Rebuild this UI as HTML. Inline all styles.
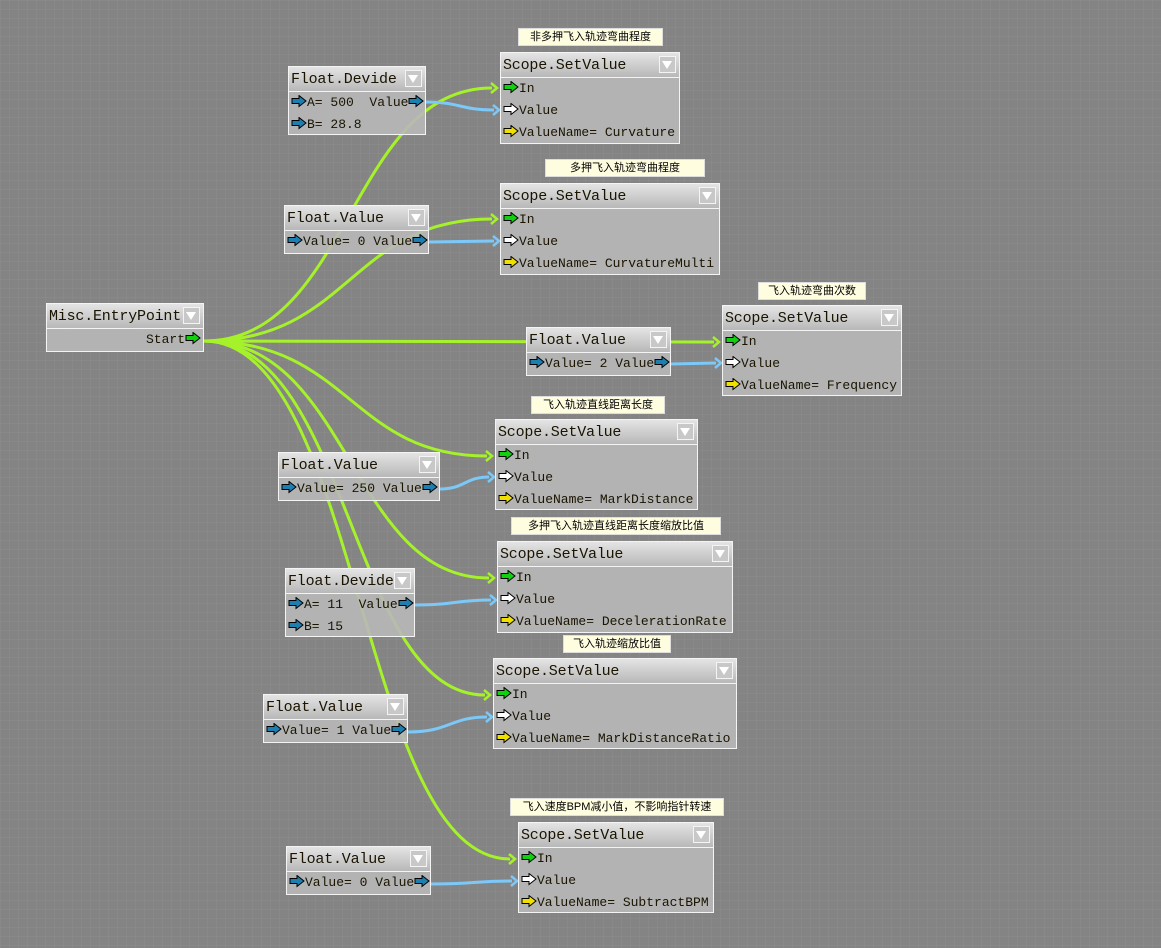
<!DOCTYPE html>
<html><head><meta charset="utf-8">
<style>
html,body{margin:0;padding:0}
body{width:1161px;height:948px;overflow:hidden;position:relative;background-color:#848484;
background-image:linear-gradient(rgba(255,255,255,0.035) 1px,transparent 1px),linear-gradient(90deg,rgba(255,255,255,0.035) 1px,transparent 1px);background-size:9px 9px;
font-family:"Liberation Mono",monospace;}
svg.w{position:absolute;left:0;top:0}
.n{position:absolute;border:1px solid #f4f4f4;background:rgba(184,184,184,0.9);box-sizing:border-box;color:#1a1400}
.h{height:24px;border-bottom:1px solid #f4f4f4;background:linear-gradient(#e4e4e4,#b8b8b8);font-size:15px;letter-spacing:-0.2px;line-height:25px;padding-left:2px;position:relative;white-space:nowrap;overflow:hidden}
.dd{position:absolute;right:3px;top:3px;width:17px;height:17px;border:1px solid #f4f4f4;background:#c8c8c8;box-sizing:border-box}
.dd:after{content:"";position:absolute;left:2px;top:4px;border-left:5.5px solid transparent;border-right:5.5px solid transparent;border-top:8px solid #fff}
.r{height:22px;font-size:13px;line-height:22px;white-space:nowrap;position:relative;padding-left:2px}
.r svg{vertical-align:-2px}
.rr{text-align:right;padding-right:2px}
.t{position:absolute;background:#fffde0;border:1px solid #ddd;font-family:"Liberation Sans","Noto Sans CJK SC",sans-serif;font-size:11px;height:16px;line-height:16px;text-align:center;color:#000;white-space:nowrap}
</style></head><body>
<svg width="0" height="0" style="position:absolute">
<defs>
<path id="ar" d="M1 3.5h7V0.5l7 5.5-7 5.5V8.5H1z" stroke="#000" stroke-width="1"/>
</defs></svg>

<svg class="w" width="1161" height="948">
<g fill="none" stroke="#a6f22a" stroke-width="3">
<path d="M204 341 C350 341 350 88 492 88"/>
<path d="M204 341 C350 341 350 219 492 219"/>
<path d="M204 341 L714 342"/>
<path d="M204 341 C350 341 350 456 487 456"/>
<path d="M204 341 C350 341 350 578 489 578"/>
<path d="M204 341 C350 341 350 695 485 695"/>
<path d="M204 341 C360 341 360 859 510 859"/>
</g>
<g fill="none" stroke="#a6f22a" stroke-width="2.5">
<path d="M491 83l6 5-6 5"/><path d="M491 214l6 5-6 5"/><path d="M713 337l6 5-6 5"/>
<path d="M486 451l6 5-6 5"/><path d="M488 573l6 5-6 5"/><path d="M484 690l6 5-6 5"/><path d="M509 854l6 5-6 5"/>
</g>
<g fill="none" stroke="#7cc8f8" stroke-width="3">
<path d="M426 102 C460 102 460 110 494 110"/>
<path d="M429 242 L494 241"/>
<path d="M671 364 L716 363"/>
<path d="M440 489 C465 489 465 477 489 477"/>
<path d="M415 605 C455 605 455 600 491 600"/>
<path d="M408 732 C450 732 450 717 487 717"/>
<path d="M431 884 C475 884 475 881 512 881"/>
</g>
<g fill="none" stroke="#7cc8f8" stroke-width="2.5">
<path d="M493 105l6 5-6 5"/><path d="M493 236l6 5-6 5"/><path d="M715 358l6 5-6 5"/>
<path d="M488 472l6 5-6 5"/><path d="M490 595l6 5-6 5"/><path d="M486 712l6 5-6 5"/><path d="M511 876l6 5-6 5"/>
</g>
</svg>

<div class="n" style="left:46px;top:303px;width:158px;height:49px"><div class="h">Misc.EntryPoint<div class="dd"></div></div>
<div class="r rr">Start<svg width="16" height="13"><use href="#ar" fill="#10d010"/></svg></div></div>

<div class="n" style="left:288px;top:66px;width:138px;height:69px"><div class="h">Float.Devide<div class="dd"></div></div>
<div class="r"><svg width="16" height="13"><use href="#ar" fill="#1c7fb0"/></svg>A= 500 &nbsp;Value<svg width="16" height="13"><use href="#ar" fill="#1c7fb0"/></svg></div>
<div class="r"><svg width="16" height="13"><use href="#ar" fill="#1c7fb0"/></svg>B= 28.8</div></div>
<div class="t" style="left:518px;top:28px;width:143px">非多押飞入轨迹弯曲程度</div>
<div class="n" style="left:500px;top:52px;width:180px;height:92px"><div class="h">Scope.SetValue<div class="dd"></div></div>
<div class="r"><svg width="16" height="13"><use href="#ar" fill="#10d010"/></svg>In</div>
<div class="r"><svg width="16" height="13"><use href="#ar" fill="#fff"/></svg>Value</div>
<div class="r"><svg width="16" height="13"><use href="#ar" fill="#f0e000"/></svg>ValueName= Curvature</div></div>

<div class="n" style="left:284px;top:205px;width:145px;height:49px"><div class="h">Float.Value<div class="dd"></div></div>
<div class="r"><svg width="16" height="13"><use href="#ar" fill="#1c7fb0"/></svg>Value= 0 Value<svg width="16" height="13"><use href="#ar" fill="#1c7fb0"/></svg></div></div>
<div class="t" style="left:545px;top:159px;width:158px">多押飞入轨迹弯曲程度</div>
<div class="n" style="left:500px;top:183px;width:220px;height:92px"><div class="h">Scope.SetValue<div class="dd"></div></div>
<div class="r"><svg width="16" height="13"><use href="#ar" fill="#10d010"/></svg>In</div>
<div class="r"><svg width="16" height="13"><use href="#ar" fill="#fff"/></svg>Value</div>
<div class="r"><svg width="16" height="13"><use href="#ar" fill="#f0e000"/></svg>ValueName= CurvatureMulti</div></div>

<div class="n" style="left:526px;top:327px;width:145px;height:49px"><div class="h">Float.Value<div class="dd"></div></div>
<div class="r"><svg width="16" height="13"><use href="#ar" fill="#1c7fb0"/></svg>Value= 2 Value<svg width="16" height="13"><use href="#ar" fill="#1c7fb0"/></svg></div></div>
<div class="t" style="left:758px;top:282px;width:106px">飞入轨迹弯曲次数</div>
<div class="n" style="left:722px;top:305px;width:180px;height:91px"><div class="h">Scope.SetValue<div class="dd"></div></div>
<div class="r"><svg width="16" height="13"><use href="#ar" fill="#10d010"/></svg>In</div>
<div class="r"><svg width="16" height="13"><use href="#ar" fill="#fff"/></svg>Value</div>
<div class="r"><svg width="16" height="13"><use href="#ar" fill="#f0e000"/></svg>ValueName= Frequency</div></div>

<div class="t" style="left:531px;top:396px;width:132px">飞入轨迹直线距离长度</div>
<div class="n" style="left:495px;top:419px;width:203px;height:91px"><div class="h">Scope.SetValue<div class="dd"></div></div>
<div class="r"><svg width="16" height="13"><use href="#ar" fill="#10d010"/></svg>In</div>
<div class="r"><svg width="16" height="13"><use href="#ar" fill="#fff"/></svg>Value</div>
<div class="r"><svg width="16" height="13"><use href="#ar" fill="#f0e000"/></svg>ValueName= MarkDistance</div></div>
<div class="n" style="left:278px;top:452px;width:162px;height:49px"><div class="h">Float.Value<div class="dd"></div></div>
<div class="r"><svg width="16" height="13"><use href="#ar" fill="#1c7fb0"/></svg>Value= 250 Value<svg width="16" height="13"><use href="#ar" fill="#1c7fb0"/></svg></div></div>

<div class="t" style="left:511px;top:517px;width:208px">多押飞入轨迹直线距离长度缩放比值</div>
<div class="n" style="left:497px;top:541px;width:236px;height:92px"><div class="h">Scope.SetValue<div class="dd"></div></div>
<div class="r"><svg width="16" height="13"><use href="#ar" fill="#10d010"/></svg>In</div>
<div class="r"><svg width="16" height="13"><use href="#ar" fill="#fff"/></svg>Value</div>
<div class="r"><svg width="16" height="13"><use href="#ar" fill="#f0e000"/></svg>ValueName= DecelerationRate</div></div>
<div class="n" style="left:285px;top:568px;width:130px;height:69px"><div class="h">Float.Devide<div class="dd"></div></div>
<div class="r"><svg width="16" height="13"><use href="#ar" fill="#1c7fb0"/></svg>A= 11 &nbsp;Value<svg width="16" height="13"><use href="#ar" fill="#1c7fb0"/></svg></div>
<div class="r"><svg width="16" height="13"><use href="#ar" fill="#1c7fb0"/></svg>B= 15</div></div>

<div class="t" style="left:563px;top:635px;width:106px">飞入轨迹缩放比值</div>
<div class="n" style="left:493px;top:658px;width:244px;height:91px"><div class="h">Scope.SetValue<div class="dd"></div></div>
<div class="r"><svg width="16" height="13"><use href="#ar" fill="#10d010"/></svg>In</div>
<div class="r"><svg width="16" height="13"><use href="#ar" fill="#fff"/></svg>Value</div>
<div class="r"><svg width="16" height="13"><use href="#ar" fill="#f0e000"/></svg>ValueName= MarkDistanceRatio</div></div>
<div class="n" style="left:263px;top:694px;width:145px;height:49px"><div class="h">Float.Value<div class="dd"></div></div>
<div class="r"><svg width="16" height="13"><use href="#ar" fill="#1c7fb0"/></svg>Value= 1 Value<svg width="16" height="13"><use href="#ar" fill="#1c7fb0"/></svg></div></div>

<div class="t" style="left:510px;top:798px;width:212px">飞入速度BPM减小值，不影响指针转速</div>
<div class="n" style="left:518px;top:822px;width:196px;height:91px"><div class="h">Scope.SetValue<div class="dd"></div></div>
<div class="r"><svg width="16" height="13"><use href="#ar" fill="#10d010"/></svg>In</div>
<div class="r"><svg width="16" height="13"><use href="#ar" fill="#fff"/></svg>Value</div>
<div class="r"><svg width="16" height="13"><use href="#ar" fill="#f0e000"/></svg>ValueName= SubtractBPM</div></div>
<div class="n" style="left:286px;top:846px;width:145px;height:49px"><div class="h">Float.Value<div class="dd"></div></div>
<div class="r"><svg width="16" height="13"><use href="#ar" fill="#1c7fb0"/></svg>Value= 0 Value<svg width="16" height="13"><use href="#ar" fill="#1c7fb0"/></svg></div></div>

</body></html>
